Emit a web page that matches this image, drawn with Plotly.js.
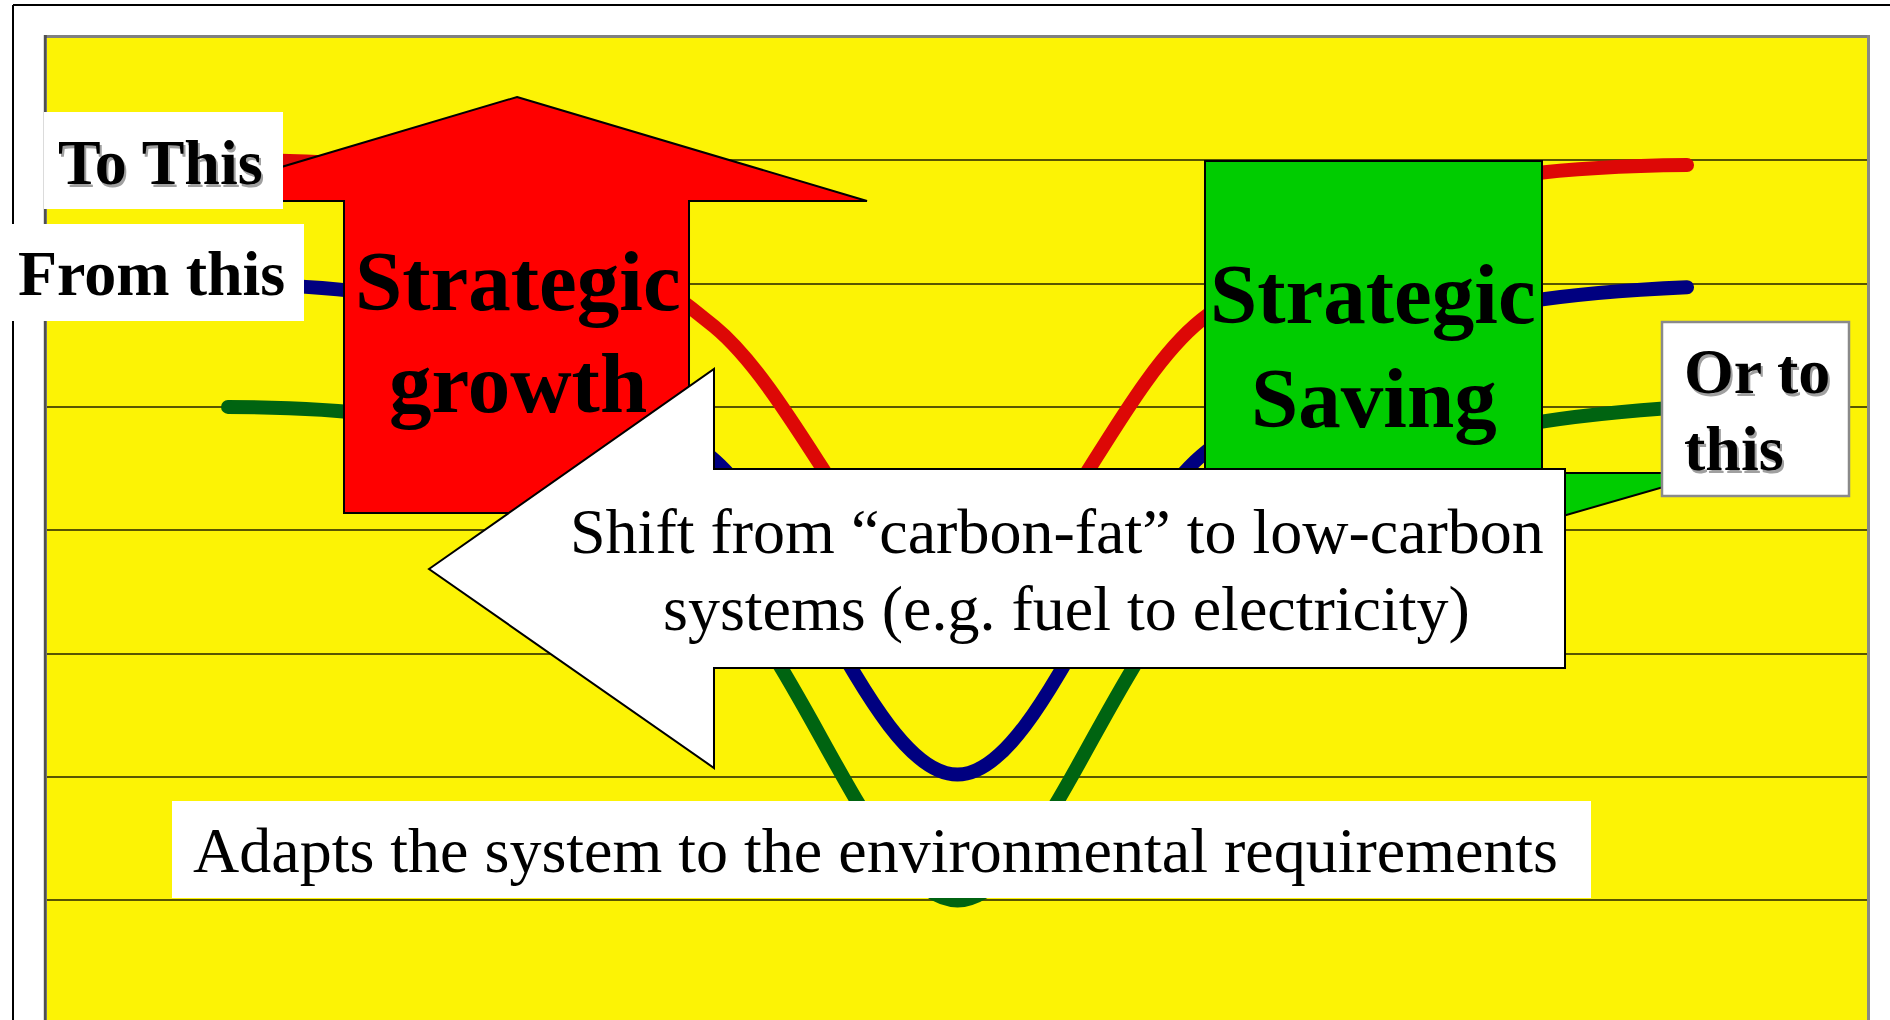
<!DOCTYPE html>
<html>
<head>
<meta charset="utf-8">
<script src="https://cdn.plot.ly/plotly-3.0.1.min.js"></script>
<style>
  html, body { margin: 0; padding: 0; overflow: hidden; background: #fff; }
  #chart { width: 1890px; height: 1020px; }
  .js-line { stroke-linecap: round; }
</style>
</head>
<body>
<div id="chart"></div>
<script>
// steps along the curve (no axis labels shown in the original)
const steps = [0, 1, 2, 3, 4, 5, 6];
const redLine = [7.0, 6.8, 5.65, 3.4, 5.7, 6.75, 6.96];
const blueLine = [6.0, 5.75, 4.57, 2.02, 4.6, 5.7, 5.97];
const greenLine = [5.0, 4.78, 3.6, 1.0, 3.6, 4.7, 5.0];

const W = 1890, H = 1020;
const M = { l: 47, r: 23, t: 38, b: 0 };
const PW = W - M.l - M.r;
const PH = H - M.t - M.b;

// pixel -> paper helpers for the drawn overlays
const px = x => (x - M.l) / PW;
const py = y => 1 - (y - M.t) / PH;
const path = pts => pts.map((p, i) => (i ? 'L' : 'M') + px(p[0]).toFixed(5) + ',' + py(p[1]).toFixed(5)).join(' ') + ' Z';

const serif = 'Liberation Serif, Times New Roman, serif';

function line(color, vals) {
  return {
    x: steps, y: vals, type: 'scatter', mode: 'lines',
    line: { color: color, width: 14, shape: 'spline', smoothing: 1 },
    hoverinfo: 'skip'
  };
}

const traces = [
  line('#DD0806', redLine),
  line('#000080', blueLine),
  line('#006411', greenLine)
];

function seg(x0, y0, x1, y1, color, width) {
  return { type: 'line', xref: 'paper', yref: 'paper', layer: 'above',
    x0: px(x0), y0: py(y0), x1: px(x1), y1: py(y1), line: { color: color, width: width } };
}
function box(x0, y0, x1, y1, fill, lc, lw) {
  return { type: 'rect', xref: 'paper', yref: 'paper', layer: 'above',
    x0: px(x0), y0: py(y0), x1: px(x1), y1: py(y1), fillcolor: fill,
    line: { color: lc || fill, width: lw || 0 } };
}
function poly(pts, fill) {
  return { type: 'path', xref: 'paper', yref: 'paper', layer: 'above',
    path: path(pts), fillcolor: fill, line: { color: '#000', width: 2 } };
}

const shapes = [
  // outer frame
  seg(13, 5, 1890, 5, '#000', 2),
  seg(13, 5, 13, 1020, '#000', 2),
  // plot border
  seg(44, 36.5, 1870, 36.5, '#808080', 3),
  seg(45.3, 35, 45.3, 1020, '#505050', 3),
  seg(1868.5, 35, 1868.5, 1020, '#888888', 3),
  // red up arrow
  poly([[517, 97], [867, 201], [689, 201], [689, 513], [344, 513], [344, 201], [167, 201]], '#FF0000'),
  // green callout
  poly([[1205, 161], [1542, 161], [1542, 473], [1712, 473], [1542, 522], [1542, 620], [1205, 620]], '#00CC00'),
  // white left arrow
  poly([[429, 569], [714, 369], [714, 469], [1565, 469], [1565, 668], [714, 668], [714, 768]], '#FFFFFF'),
  // label boxes
  box(44, 112, 283, 209, '#FFFFFF'),
  box(12, 224, 304, 321, '#FFFFFF'),
  box(1662, 322, 1849, 496, '#FFFFFF', '#8a8a8a', 2.5),
  box(172, 801, 1591, 898, '#FFFFFF')
];

function txt(text, x, baseline, size, opts) {
  opts = opts || {};
  return {
    text: text, xref: 'paper', yref: 'paper', showarrow: false,
    x: px(x), y: py(baseline - 0.3375 * size),
    xanchor: opts.anchor || 'center', yanchor: 'middle', borderpad: 0,
    font: { family: serif, size: size, color: '#000',
      weight: opts.bold ? 'bold' : 'normal',
      shadow: opts.shadow ? '2px 3px 0px #a0a0a0' : 'none' }
  };
}

const annotations = [
  txt('To This', 160, 184, 64, { bold: true, shadow: true }),
  txt('From this', 151, 295, 64, { bold: true }),
  txt('Strategic', 518, 310, 85, { bold: true }),
  txt('growth', 518, 412, 85, { bold: true }),
  txt('Strategic', 1373, 323, 85, { bold: true }),
  txt('Saving', 1374, 427, 85, { bold: true }),
  txt('Or to', 1683, 393, 64, { bold: true, shadow: true, anchor: 'left' }),
  txt('this', 1683, 470, 64, { bold: true, shadow: true, anchor: 'left' }),
  txt('Shift from “carbon-fat” to low-carbon', 1057, 553, 64),
  txt('systems (e.g. fuel to electricity)', 1066, 630, 64),
  txt('Adapts the system to the environmental requirements', 875, 872, 64)
];

const layout = {
  width: W, height: H,
  margin: M,
  showlegend: false,
  paper_bgcolor: '#FFFFFF',
  plot_bgcolor: '#FCF305',
  xaxis: { range: [-0.7443, 6.740], showgrid: false, zeroline: false, showticklabels: false, showline: false, fixedrange: true },
  yaxis: { range: [0.031, 7.99], tick0: 0, dtick: 1, showgrid: true, gridcolor: 'rgba(0,0,0,0.65)', gridwidth: 2,
    zeroline: false, showticklabels: false, showline: false, fixedrange: true },
  shapes: shapes,
  annotations: annotations
};

Plotly.newPlot('chart', traces, layout, { displayModeBar: false, staticPlot: true });
</script>
</body>
</html>
